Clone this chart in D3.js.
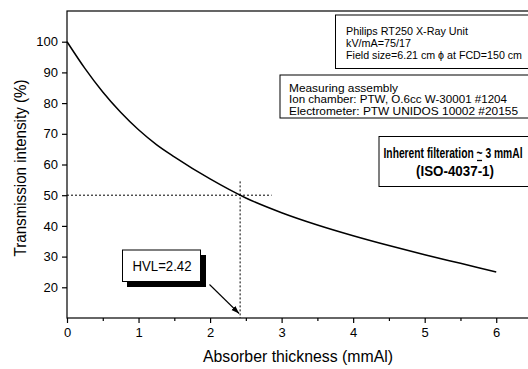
<!DOCTYPE html>
<html lang="en">
<head>
<meta charset="utf-8">
<title>Transmission intensity vs absorber thickness</title>
<style>
  body { margin: 0; background: #fff; }
  svg { display: block; font-family: "Liberation Sans", Arial, sans-serif; }
  .axis text { font-size: 13px; fill: #000; }
  .axis path, .axis line { stroke: #000; stroke-width: 1.2px; }
  .note { font-family: "Liberation Sans Narrow", "Arial Narrow", "Liberation Sans", sans-serif; }
</style>
</head>
<body>
<svg width="528" height="369"></svg>
<script src="https://d3js.org/d3.v7.min.js"></script>
<script>
  // measured attenuation curve
  var thickness = [0, 0.25, 0.5, 0.75, 1, 1.25, 1.5, 2, 2.5, 3, 3.5, 4, 4.5, 5, 5.5, 6];
  var transmission = [100, 91.3, 83.6, 77.0, 71.3, 66.5, 62.5, 55.3, 49.1, 44.3, 40.3, 36.8, 33.6, 30.6, 27.8, 25];
  var xTicks = [0, 1, 2, 3, 4, 5, 6];
  var yTicks = [20, 30, 40, 50, 60, 70, 80, 90, 100];
  var hvl = 2.42, half = 50;

  var unitLines = ["Philips RT250 X-Ray Unit", "kV/mA=75/17", "Field size=6.21 cm \u03d5 at FCD=150 cm"];
  var assemblyLines = ["Measuring assembly", "Ion chamber: PTW, O.6cc W-30001 #1204", "Electrometer: PTW UNIDOS 10002 #20155"];
  var filtration = "Inherent filteration ~ 3 mmAl";
  var standard = "(ISO-4037-1)";

  var svg = d3.select("svg");
  var mLeft = 67, mTop = 11, mBottom = 318, mRight = 532;

  var x = d3.scaleLinear().domain([0, 6.5]).range([mLeft, mRight]);
  var y = d3.scaleLinear().domain([10, 110]).range([mBottom, mTop]);

  // squeeze a text into a given width
  function fit(sel, w) {
    return sel.attr("textLength", w).attr("lengthAdjust", "spacingAndGlyphs");
  }

  // frame
  svg.append("rect")
    .attr("x", mLeft).attr("y", mTop)
    .attr("width", mRight - mLeft).attr("height", mBottom - mTop)
    .attr("fill", "none").attr("stroke", "#000").attr("stroke-width", 1.2);

  // minor x ticks at half units
  svg.append("g")
    .attr("class", "axis")
    .attr("transform", "translate(0," + mBottom + ")")
    .call(d3.axisBottom(x).tickValues(d3.range(0.5, 6.6, 1)).tickSize(3).tickFormat(""))
    .select(".domain").remove();

  svg.append("g")
    .attr("class", "axis")
    .attr("transform", "translate(0," + mBottom + ")")
    .call(d3.axisBottom(x).tickValues(xTicks).tickSize(5).tickPadding(5).tickFormat(d3.format("d")))
    .select(".domain").remove();

  svg.append("g")
    .attr("class", "axis")
    .attr("transform", "translate(" + mLeft + ",0)")
    .call(d3.axisLeft(y).tickValues(yTicks).tickSize(5).tickPadding(4).tickFormat(d3.format("d")))
    .select(".domain").remove();

  fit(svg.append("text")
    .attr("x", 298).attr("y", 362)
    .attr("text-anchor", "middle")
    .attr("font-size", 16)
    .text("Absorber thickness (mmAl)"), 190);

  fit(svg.append("text")
    .attr("transform", "translate(26,168) rotate(-90)")
    .attr("text-anchor", "middle")
    .attr("font-size", 16)
    .text("Transmission intensity (%)"), 177);

  // the curve
  var line = d3.line()
    .x(function(d, i) { return x(thickness[i]); })
    .y(function(d) { return y(d); })
    .curve(d3.curveMonotoneX);

  svg.append("path")
    .datum(transmission)
    .attr("d", line)
    .attr("fill", "none")
    .attr("stroke", "#000")
    .attr("stroke-width", 1.5);

  // half value guides
  svg.append("line")
    .attr("x1", x(0)).attr("x2", x(2.86))
    .attr("y1", y(half)).attr("y2", y(half))
    .attr("stroke", "#000").attr("stroke-dasharray", "2,2");

  svg.append("line")
    .attr("x1", x(hvl)).attr("x2", x(hvl))
    .attr("y1", y(54.5)).attr("y2", mBottom)
    .attr("stroke", "#000").attr("stroke-dasharray", "2,2");

  // HVL label with shadow and arrow
  svg.append("defs").append("marker")
    .attr("id", "head")
    .attr("viewBox", "0 0 10 10")
    .attr("refX", 10).attr("refY", 5)
    .attr("markerWidth", 8).attr("markerHeight", 8)
    .attr("markerUnits", "userSpaceOnUse")
    .attr("orient", "auto")
    .append("path")
    .attr("d", "M0,1.5L10,5L0,8.5Z")
    .attr("fill", "#000");

  svg.append("rect")
    .attr("x", 127).attr("y", 255).attr("width", 79).attr("height", 32)
    .attr("fill", "#000");
  svg.append("rect")
    .attr("x", 122.5).attr("y", 250).attr("width", 78).attr("height", 31.5)
    .attr("fill", "#fff").attr("stroke", "#000").attr("stroke-width", 1);
  fit(svg.append("text")
    .attr("x", 162).attr("y", 271)
    .attr("text-anchor", "middle")
    .attr("font-size", 14)
    .text("HVL=" + hvl), 59);

  svg.append("line")
    .attr("x1", 209.5).attr("y1", 284.5)
    .attr("x2", x(hvl) - 1).attr("y2", 313.5)
    .attr("stroke", "#000").attr("stroke-width", 1.1)
    .attr("marker-end", "url(#head)");

  // info boxes
  function infoBox(bx, by, bh, lines, widths, tx, ty0, dy, size) {
    svg.append("rect")
      .attr("x", bx).attr("y", by).attr("width", 540 - bx).attr("height", bh)
      .attr("fill", "#fff").attr("stroke", "#000").attr("stroke-width", 1);
    svg.append("g").selectAll("text")
      .data(lines)
      .enter().append("text")
      .attr("class", "note")
      .attr("x", tx)
      .attr("y", function(d, i) { return ty0 + i * dy; })
      .attr("font-size", size)
      .attr("lengthAdjust", "spacingAndGlyphs")
      .attr("textLength", function(d, i) { return widths[i]; })
      .text(function(d) { return d; });
  }

  infoBox(335.5, 15, 53.5, unitLines, [122, 65, 176], 346, 34.5, 12.2, 10.5);
  infoBox(280, 75, 43, assemblyLines, [109, 218, 229], 289, 91.5, 11.7, 11.5);

  svg.append("rect")
    .attr("x", 379).attr("y", 136.5).attr("width", 160).attr("height", 50)
    .attr("fill", "#fff").attr("stroke", "#000").attr("stroke-width", 1);

  var filt = fit(svg.append("text")
    .attr("class", "note")
    .attr("x", 453).attr("y", 158)
    .attr("text-anchor", "middle")
    .attr("font-size", 14)
    .attr("font-weight", "bold")
    .text(filtration), 139);

  // underline beneath the "~"
  var k = filtration.indexOf("~");
  var box = filt.node().getExtentOfChar(k);
  svg.append("line")
    .attr("x1", box.x + 0.5).attr("x2", box.x + box.width - 0.5)
    .attr("y1", 160.5).attr("y2", 160.5)
    .attr("stroke", "#000").attr("stroke-width", 1.3);

  fit(svg.append("text")
    .attr("class", "note")
    .attr("x", 455).attr("y", 176)
    .attr("text-anchor", "middle")
    .attr("font-size", 14)
    .attr("font-weight", "bold")
    .text(standard), 78);
</script>
</body>
</html>
